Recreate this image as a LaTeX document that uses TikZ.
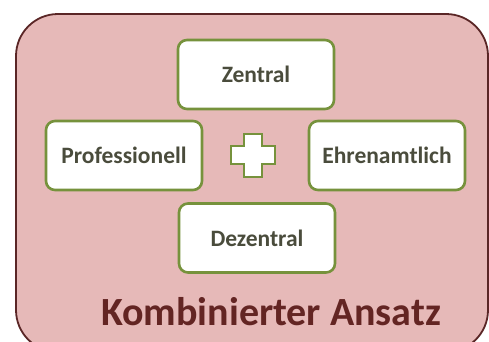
\documentclass[tikz,border=0pt]{standalone}
\usepackage{fontspec}
\setmainfont{Carlito}
\definecolor{outerfill}{HTML}{E6B9B8}
\definecolor{outerdraw}{HTML}{5A2626}
\definecolor{boxdraw}{HTML}{76923C}
\definecolor{boxtext}{HTML}{4A4C3C}
\definecolor{titletext}{HTML}{632523}
\begin{document}
\begin{tikzpicture}[x=1pt,y=-1pt,
  cardbox/.style={draw=boxdraw, line width=2.6pt, fill=white, rounded corners=9pt,
    minimum width=156pt, minimum height=69pt, text=boxtext,
    font=\fontsize{23.5}{27}\selectfont\bfseries, inner sep=0pt},
  titlenode/.style={text=titletext, font=\fontsize{40}{46}\selectfont\bfseries, inner sep=0pt, anchor=base west}]
\useasboundingbox (0,0) rectangle (489,341);
\begin{scope}
\clip (0,0) rectangle (489,341);
\draw[outerdraw, line width=1.8pt, fill=outerfill, rounded corners=42pt] (16,14) rectangle (488,352);
\end{scope}
\node[cardbox] (zen) at (256,74.5) {Zentral};
\node[cardbox] (pro) at (124,155.5) {Professionell};
\node[cardbox] (ehr) at (387,155.5) {Ehrenamtlich};
\node[cardbox] (dez) at (257,238) {Dezentral};
\draw[boxdraw, line width=2.2pt, fill=white]
  (244,134) -- (262,134) -- (262,146) -- (275,146) -- (275,164) -- (262,164) -- (262,177)
  -- (244,177) -- (244,164) -- (231,164) -- (231,146) -- (244,146) -- cycle;
\node[titlenode] (title) at (101,325) {Kombinierter Ansatz};
\end{tikzpicture}
\end{document}
